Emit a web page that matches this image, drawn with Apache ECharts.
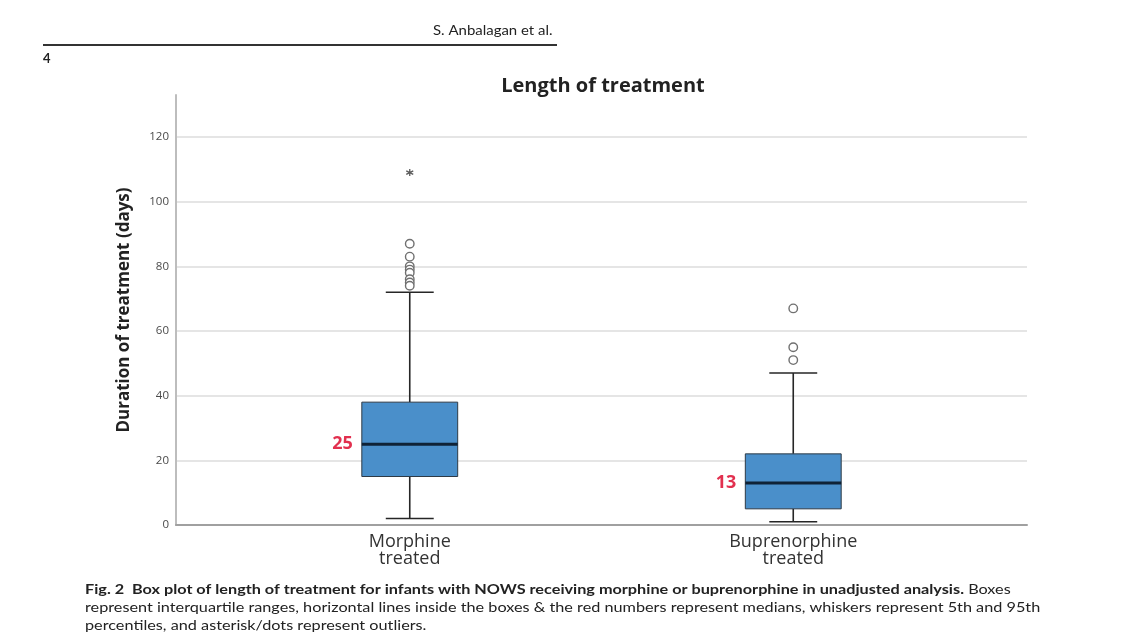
<!DOCTYPE html>
<html>
<head>
<meta charset="utf-8">
<script src="https://cdn.jsdelivr.net/npm/echarts@6/dist/echarts.min.js"></script>
<style>
html,body{margin:0;padding:0;background:#fff;}
#chart{width:1125px;height:644px;}
</style>
</head>
<body>
<div id="chart"></div>
<script>
const categories = ['Morphine\ntreated', 'Buprenorphine\ntreated'];
const whiskerLow = [2, 1];
const q1 = [15, 5];
const medians = [25, 13];
const q3 = [38, 22];
const whiskerHigh = [72, 47];
const morphineOutliers = [87, 83, 80, 79, 78, 76, 75, 74];
const buprenorphineOutliers = [67, 55, 51];
const morphineExtremes = [109];
const yMin = 0, yMax = 133, yInterval = 20;

const boxData = categories.map((c, i) => [i, whiskerLow[i], q1[i], medians[i], q3[i], whiskerHigh[i]]);
const outlierData = morphineOutliers.map(v => [0, v]).concat(buprenorphineOutliers.map(v => [1, v]));
const extremeData = morphineExtremes.map(v => [0, v]);

function renderBox(params, api) {
  const i = api.value(0);
  const pLow = api.coord([i, api.value(1)]);
  const pQ1 = api.coord([i, api.value(2)]);
  const pMed = api.coord([i, api.value(3)]);
  const pQ3 = api.coord([i, api.value(4)]);
  const pHigh = api.coord([i, api.value(5)]);
  const bw = api.size([1, 0])[0];
  const half = bw * 0.125;
  const cap = half / 2;
  const x = pMed[0];
  const ws = {stroke: '#262626', lineWidth: 1.6};
  return {
    type: 'group',
    children: [
      {type: 'line', shape: {x1: x, y1: pLow[1], x2: x, y2: pQ1[1]}, style: ws},
      {type: 'line', shape: {x1: x, y1: pQ3[1], x2: x, y2: pHigh[1]}, style: ws},
      {type: 'line', shape: {x1: x - cap, y1: pLow[1], x2: x + cap, y2: pLow[1]}, style: ws},
      {type: 'line', shape: {x1: x - cap, y1: pHigh[1], x2: x + cap, y2: pHigh[1]}, style: ws},
      {type: 'rect', shape: {x: x - half, y: pQ3[1], width: half * 2, height: pQ1[1] - pQ3[1]},
        style: {fill: '#4a8fca', stroke: '#2e3a46', lineWidth: 1}},
      {type: 'line', shape: {x1: x - half, y1: pMed[1], x2: x + half, y2: pMed[1]},
        style: {stroke: '#0f2236', lineWidth: 3}},
      {type: 'text', x: x - half - 9, y: pMed[1],
        style: {text: String(api.value(3)), align: 'right', verticalAlign: 'middle',
          fill: '#e2304f', font: 'bold 18px "Open Sans"'}}
    ]
  };
}

const chart = echarts.init(document.getElementById('chart'));
chart.setOption({
  backgroundColor: '#fff',
  animation: false,
  title: {
    text: 'Length of treatment', left: 598, top: 71, textAlign: 'center',
    textStyle: {fontFamily: 'Open Sans', fontWeight: 'bold', fontSize: 20, color: '#222'}
  },
  grid: [
    {left: 176, right: 98, top: 95, bottom: 119},
    {left: 218, right: 140, top: 95, bottom: 119}
  ],
  xAxis: [
    {type: 'value', gridIndex: 0, min: 0, max: 1, axisLabel: {show: false}, axisTick: {show: false},
      splitLine: {show: false}, axisLine: {lineStyle: {color: '#a0a0a0', width: 2}}},
    {type: 'category', gridIndex: 1, data: categories, axisLine: {show: false}, axisTick: {show: false},
      axisLabel: {fontFamily: 'Open Sans', fontSize: 18, color: '#333', lineHeight: 17, margin: 8}}
  ],
  yAxis: [
    {type: 'value', gridIndex: 0, min: yMin, max: yMax, interval: yInterval,
      name: 'Duration of treatment (days)', nameLocation: 'middle', nameGap: 43,
      nameTextStyle: {fontFamily: 'Open Sans', fontWeight: 'bold', fontSize: 17, color: '#222'},
      axisLine: {show: true, lineStyle: {color: '#bdbdbd', width: 2}},
      axisTick: {show: false},
      axisLabel: {showMaxLabel: false, fontFamily: 'Open Sans', fontSize: 11.5, color: '#4a4a4a', margin: 7},
      splitLine: {show: true, showMaxLine: false, showMinLine: false, lineStyle: {color: '#dcdcdc', width: 1.5}}},
    {type: 'value', gridIndex: 1, min: yMin, max: yMax, interval: yInterval, show: false}
  ],
  series: [
    {type: 'custom', xAxisIndex: 1, yAxisIndex: 1, renderItem: renderBox, data: boxData, z: 3},
    {type: 'scatter', xAxisIndex: 1, yAxisIndex: 1, data: outlierData, symbol: 'circle', symbolSize: 8.5,
      itemStyle: {color: '#ffffff', borderColor: '#707070', borderWidth: 1.4, opacity: 1}, z: 4},
    {type: 'scatter', xAxisIndex: 1, yAxisIndex: 1, data: extremeData,
      symbol: 'path://M0,-5L0,5M-4.33,-2.5L4.33,2.5M-4.33,2.5L4.33,-2.5', symbolSize: 7,
      itemStyle: {color: '#333', borderColor: '#333', borderWidth: 1.3}, z: 4}
  ],
  graphic: [
    {type: 'text', left: 433, top: 24, scaleX: 1.15, style: {text: 'S. Anbalagan et al.', font: '13px Lato', fill: '#222'}},
    {type: 'rect', shape: {x: 43, y: 44, width: 514, height: 2}, style: {fill: '#333'}},
    {type: 'text', left: 43, top: 52, style: {text: '4', font: 'bold 13px Lato', fill: '#222'}},
    {type: 'text', x: 85, y: 580, scaleX: 1.16, style: {
      text: '{b|Fig. 2  Box plot of length of treatment for infants with NOWS receiving morphine or buprenorphine in unadjusted analysis.}{r| Boxes}\n{r|represent interquartile ranges, horizontal lines inside the boxes & the red numbers represent medians, whiskers represent 5th and 95th}\n{r|percentiles, and asterisk/dots represent outliers.}',
      rich: {
        b: {font: 'bold 14px Lato', fill: '#222', lineHeight: 18},
        r: {font: '14px Lato', fill: '#222', lineHeight: 18}
      }
    }}
  ]
});
</script>
</body>
</html>
